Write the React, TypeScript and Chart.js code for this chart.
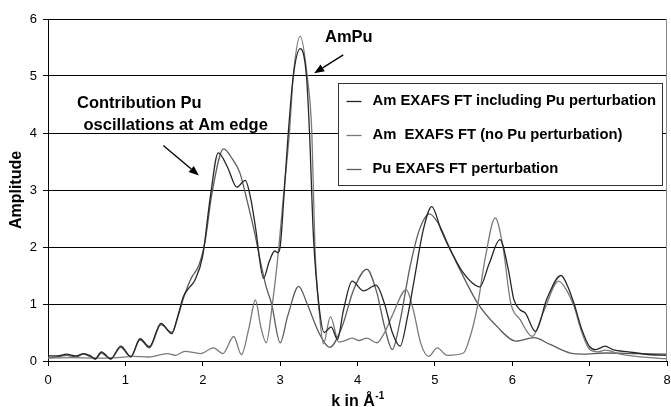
import React, { useEffect, useRef } from 'react';
import { Chart, registerables } from 'chart.js';

Chart.register(...registerables);

// ---------- data ----------
const seriesLabels = [
  'Am EXAFS FT including Pu perturbation',
  'Am  EXAFS FT (no Pu perturbation)',
  'Pu EXAFS FT perturbation',
];

const kIncl = [0, 0.12, 0.24, 0.36, 0.46, 0.55, 0.61, 0.69, 0.81, 0.94, 1.07, 1.19, 1.31, 1.46, 1.6, 1.68, 1.75, 1.82, 1.9, 2.0, 2.1, 2.2, 2.32, 2.44, 2.55, 2.62, 2.68, 2.785, 2.86, 2.93, 2.97, 3.0, 3.05, 3.1, 3.17, 3.26, 3.34, 3.38, 3.43, 3.5, 3.57, 3.66, 3.74, 3.82, 3.93, 4.08, 4.24, 4.35, 4.45, 4.55, 4.65, 4.73, 4.85, 4.96, 5.08, 5.2, 5.37, 5.58, 5.7, 5.84, 5.95, 6.02, 6.1, 6.17, 6.3, 6.45, 6.63, 6.72, 6.8, 6.9, 7.0, 7.08, 7.2, 7.3, 7.5, 7.8, 8.0];
const ampIncl = [0.09, 0.09, 0.12, 0.09, 0.13, 0.09, 0.04, 0.16, 0.04, 0.26, 0.08, 0.39, 0.25, 0.66, 0.48, 0.8, 1.13, 1.28, 1.42, 1.85, 2.9, 3.65, 3.4, 3.05, 3.17, 2.85, 2.36, 1.45, 1.75, 1.93, 1.9, 2.0, 2.9, 3.9, 5.0, 5.48, 5.0, 4.0, 2.2, 1.0, 0.5, 0.6, 0.38, 0.9, 1.4, 1.23, 1.33, 1.0, 0.5, 0.26, 0.8, 1.4, 2.3, 2.71, 2.3, 1.95, 1.54, 1.3, 1.7, 2.13, 1.6, 1.08, 0.9, 0.84, 0.52, 1.1, 1.5, 1.3, 1.0, 0.55, 0.25, 0.2, 0.26, 0.2, 0.16, 0.11, 0.1];

const kNoPu = [0, 0.3, 0.6, 0.9, 1.1, 1.3, 1.54, 1.65, 1.77, 1.97, 2.14, 2.26, 2.4, 2.5, 2.6, 2.68, 2.75, 2.82, 2.9, 2.98, 3.05, 3.12, 3.17, 3.26, 3.35, 3.41, 3.45, 3.51, 3.56, 3.65, 3.76, 3.82, 3.93, 4.02, 4.12, 4.25, 4.35, 4.45, 4.63, 4.72, 4.82, 4.92, 5.03, 5.16, 5.37, 5.45, 5.55, 5.65, 5.78, 5.88, 5.98, 6.1, 6.26, 6.4, 6.6, 6.72, 6.8, 6.9, 7.0, 7.1, 7.2, 7.4, 7.6, 8.0];
const ampNoPu = [0.05, 0.06, 0.05, 0.06, 0.08, 0.07, 0.13, 0.1, 0.17, 0.13, 0.23, 0.13, 0.43, 0.11, 0.6, 1.07, 0.6, 0.32, 1.0, 1.95, 3.0, 4.0, 5.0, 5.7, 5.0, 4.0, 2.0, 0.8, 0.3, 0.78, 0.33, 0.35, 0.4, 0.36, 0.4, 0.32, 0.5, 0.8, 1.25, 0.9, 0.3, 0.08, 0.23, 0.1, 0.14, 0.4, 0.96, 1.8, 2.51, 2.0, 1.02, 0.73, 0.43, 0.85, 1.4, 1.2, 0.95, 0.5, 0.2, 0.16, 0.19, 0.12, 0.08, 0.04];

const kPu = [0, 0.12, 0.24, 0.36, 0.46, 0.55, 0.61, 0.69, 0.81, 0.94, 1.07, 1.19, 1.31, 1.46, 1.6, 1.68, 1.75, 1.85, 1.95, 2.03, 2.12, 2.27, 2.38, 2.48, 2.57, 2.68, 2.74, 2.82, 2.89, 3.0, 3.1, 3.24, 3.35, 3.5, 3.64, 3.8, 3.95, 4.12, 4.25, 4.35, 4.45, 4.55, 4.68, 4.8, 4.93, 5.05, 5.2, 5.38, 5.55, 5.8, 6.05, 6.28, 6.49, 6.75, 6.9, 7.2, 7.6, 8.0];
const ampPu = [0.06, 0.07, 0.1, 0.07, 0.12, 0.07, 0.03, 0.14, 0.03, 0.24, 0.07, 0.37, 0.23, 0.64, 0.5, 0.78, 1.1, 1.45, 1.68, 2.1, 2.95, 3.72, 3.55, 3.3, 2.83, 2.19, 1.78, 1.3, 1.0, 0.32, 0.8, 1.31, 1.0, 0.5, 0.24, 0.6, 1.25, 1.61, 1.2, 0.6, 0.2, 0.7, 1.66, 2.3, 2.58, 2.4, 1.95, 1.45, 1.02, 0.61, 0.35, 0.41, 0.29, 0.14, 0.12, 0.14, 0.13, 0.12];

const xTickValues = [0, 1, 2, 3, 4, 5, 6, 7, 8];
const yTickValues = [0, 1, 2, 3, 4, 5, 6];

// ---------- annotation placement (in data units) ----------
const notes = [
  { text: 'AmPu', k: 3.58, v: 5.67 },
  { text: 'Contribution Pu', k: 0.375, v: 4.51 },
  { text: ' oscillations at Am edge', k: 0.40, v: 4.13 },
];
const arrows = [
  { k0: 3.816, v0: 5.37, k1: 3.44, v1: 5.05 },
  { k0: 1.49, v0: 3.78, k1: 1.95, v1: 3.255 },
];
const legendBox = { k0: 3.75, k1: 7.935, v0: 4.88, v1: 3.09 };

const colors = ['#262626', '#7a7a7a', '#5c5c5c'];
const FONT = '"Liberation Sans", Arial, Helvetica, sans-serif';

function toPoints(ks: number[], vs: number[]) {
  return ks.map((k, i) => ({ x: k, y: vs[i] }));
}

const overlayPlugin = {
  id: 'overlay',
  afterDraw(chart: any) {
    const { ctx, chartArea } = chart;
    const xs = chart.scales.x;
    const ys = chart.scales.y;
    ctx.save();

    // right border of plot area
    ctx.strokeStyle = '#888888';
    ctx.lineWidth = 1;
    const rx = Math.round(chartArea.right) - 0.5;
    ctx.beginPath();
    ctx.moveTo(rx, chartArea.top);
    ctx.lineTo(rx, chartArea.bottom);
    ctx.stroke();

    // legend box
    const lx0 = Math.round(xs.getPixelForValue(legendBox.k0)) + 0.5;
    const lx1 = Math.round(xs.getPixelForValue(legendBox.k1)) + 0.5;
    const ly0 = Math.round(ys.getPixelForValue(legendBox.v0)) + 0.5;
    const ly1 = Math.round(ys.getPixelForValue(legendBox.v1)) + 0.5;
    ctx.fillStyle = '#ffffff';
    ctx.fillRect(lx0, ly0, lx1 - lx0, ly1 - ly0);
    ctx.strokeStyle = '#333333';
    ctx.lineWidth = 1;
    ctx.strokeRect(lx0, ly0, lx1 - lx0, ly1 - ly0);
    const rowH = (ly1 - ly0) / 3;
    ctx.font = `bold 14.8px ${FONT}`;
    ctx.textBaseline = 'middle';
    ctx.textAlign = 'left';
    seriesLabels.forEach((lab, i) => {
      const cy = ly0 + rowH * (i + 0.5) + 0.5;
      ctx.strokeStyle = colors[i];
      ctx.lineWidth = 1.3;
      ctx.beginPath();
      ctx.moveTo(lx0 + 8, Math.round(cy) + 0.5);
      ctx.lineTo(lx0 + 23, Math.round(cy) + 0.5);
      ctx.stroke();
      ctx.fillStyle = '#000000';
      ctx.fillText(lab, lx0 + 34, cy);
    });

    // annotations
    ctx.font = `bold 16.5px ${FONT}`;
    ctx.fillStyle = '#000000';
    notes.forEach((n) => {
      ctx.fillText(n.text, xs.getPixelForValue(n.k), ys.getPixelForValue(n.v));
    });
    arrows.forEach((a) => {
      const x0 = xs.getPixelForValue(a.k0);
      const y0 = ys.getPixelForValue(a.v0);
      const x1 = xs.getPixelForValue(a.k1);
      const y1 = ys.getPixelForValue(a.v1);
      const ang = Math.atan2(y1 - y0, x1 - x0);
      const hl = 10;
      const hw = 4;
      const bx = x1 - hl * Math.cos(ang);
      const by = y1 - hl * Math.sin(ang);
      ctx.strokeStyle = '#000000';
      ctx.lineWidth = 1.3;
      ctx.beginPath();
      ctx.moveTo(x0, y0);
      ctx.lineTo(bx, by);
      ctx.stroke();
      ctx.beginPath();
      ctx.moveTo(x1, y1);
      ctx.lineTo(bx + hw * Math.sin(ang), by - hw * Math.cos(ang));
      ctx.lineTo(bx - hw * Math.sin(ang), by + hw * Math.cos(ang));
      ctx.closePath();
      ctx.fill();
    });

    // y title
    ctx.save();
    ctx.translate(17, (chartArea.top + chartArea.bottom) / 2);
    ctx.rotate(-Math.PI / 2);
    ctx.font = `bold 16px ${FONT}`;
    ctx.textAlign = 'center';
    ctx.textBaseline = 'middle';
    ctx.fillText('Amplitude', 0, 0);
    ctx.restore();

    // x title with superscript
    const main = 'k in Å';
    const sup = '-1';
    ctx.font = `bold 16px ${FONT}`;
    const wMain = ctx.measureText(main).width;
    ctx.font = `bold 10px ${FONT}`;
    const wSup = ctx.measureText(sup).width;
    const cx = (chartArea.left + chartArea.right) / 2;
    const start = cx - (wMain + wSup) / 2;
    const base = 405.5;
    ctx.textAlign = 'left';
    ctx.textBaseline = 'alphabetic';
    ctx.font = `bold 16px ${FONT}`;
    ctx.fillText(main, start, base);
    ctx.font = `bold 10px ${FONT}`;
    ctx.fillText(sup, start + wMain + 0.5, base - 6.5);

    ctx.restore();
  },
};

export default function App() {
  const ref = useRef<HTMLCanvasElement | null>(null);

  useEffect(() => {
    document.body.style.margin = '0';
    const canvas = ref.current;
    if (!canvas) return;
    Chart.defaults.font.family = FONT;
    const series = [
      toPoints(kIncl, ampIncl),
      toPoints(kNoPu, ampNoPu),
      toPoints(kPu, ampPu),
    ];
    const chart = new Chart(canvas, {
      type: 'line',
      data: {
        datasets: series.map((pts, i) => ({
          label: seriesLabels[i],
          data: pts,
          borderColor: colors[i],
          borderWidth: 1.3,
          pointRadius: 0,
          fill: false,
          cubicInterpolationMode: 'monotone' as const,
        })),
      },
      options: {
        animation: false,
        responsive: false,
        maintainAspectRatio: false,
        layout: { padding: { top: 19, right: 4, left: 0, bottom: 0 } },
        plugins: {
          legend: { display: false },
          tooltip: { enabled: false },
          title: { display: false },
        },
        scales: {
          x: {
            type: 'linear',
            min: 0,
            max: 8,
            afterFit: (s: any) => { s.height = 46; s.paddingLeft = 0; s.paddingRight = 0; },
            afterBuildTicks: (s: any) => { s.ticks = xTickValues.map((v) => ({ value: v })); },
            grid: { drawOnChartArea: false, drawTicks: true, tickLength: 5, color: '#000000' },
            border: { display: true, color: '#000000', width: 1 },
            ticks: { color: '#000000', font: { size: 13 }, padding: 7, maxRotation: 0 },
          },
          y: {
            type: 'linear',
            min: 0,
            max: 6,
            afterFit: (s: any) => { s.width = 48; s.paddingTop = 0; s.paddingBottom = 0; },
            afterBuildTicks: (s: any) => { s.ticks = yTickValues.map((v) => ({ value: v })); },
            grid: { drawOnChartArea: true, drawTicks: true, tickLength: 5, color: '#000000', lineWidth: 1 },
            border: { display: true, color: '#000000', width: 1 },
            ticks: { color: '#000000', font: { size: 13 }, padding: 6 },
          },
        },
      },
      plugins: [overlayPlugin],
    });
    return () => chart.destroy();
  }, []);

  return (
    <div style={{ width: 671, height: 407 }}>
      <canvas ref={ref} width={671} height={407} style={{ display: 'block' }} />
    </div>
  );
}
